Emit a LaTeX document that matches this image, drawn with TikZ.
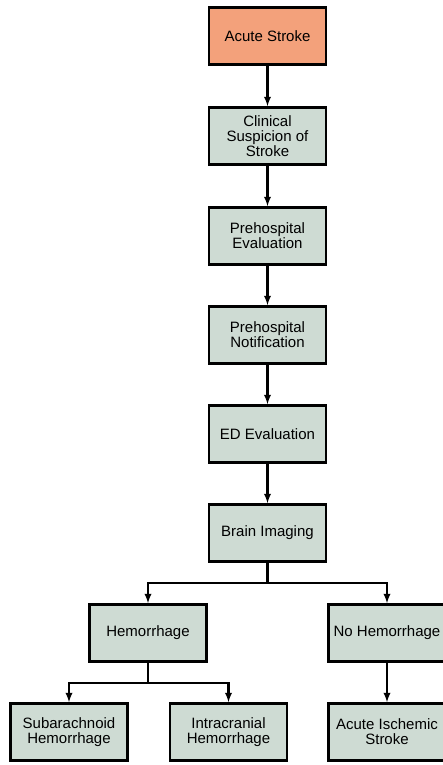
\documentclass[tikz,border=0pt]{standalone}
\usepackage{fontspec}
\setmainfont{Liberation Sans}
\usepackage{xcolor}
\usepackage{tikz}
\usetikzlibrary{
  arrows,
  positioning,
  calc}
\definecolor{strokeorange}{RGB}{243,161,123}
\definecolor{stepgray}{RGB}{206,219,211}
\tikzset{every picture/.style={font issue=\fontsize{15}{15}},
         font issue/.style={execute at begin picture={#1\selectfont}},
         stepbox/.style={draw, line width=2.5pt, fill=stepgray, minimum width=117pt, minimum height=57pt, align=center, inner sep=2pt},
         link/.style={-latex, line width=2.2pt}
        }
\begin{document}
\begin{tikzpicture}[x=1pt,y=1pt]
\useasboundingbox (0,0) rectangle (442,765);
\node[stepbox, fill=strokeorange] at (267.5,729)(stroke){Acute Stroke};
\node[stepbox] at (267.5,629)(suspicion){Clinical\\Suspicion of\\Stroke};
\node[stepbox] at (267.5,529)(evaluation){Prehospital\\Evaluation};
\node[stepbox] at (267.5,430)(notification){Prehospital\\Notification};
\node[stepbox] at (267.5,331)(ed){ED Evaluation};
\node[stepbox] at (267.5,232)(imaging){Brain Imaging};
\node[stepbox] at (148,132)(hemorrhage){Hemorrhage};
\node[stepbox] at (387,132)(nohemorrhage){No Hemorrhage};
\node[stepbox] at (69,33)(subarachnoid){Subarachnoid\\Hemorrhage};
\node[stepbox] at (228.5,33)(intracranial){Intracranial\\Hemorrhage};
\node[stepbox] at (387,33)(ischemic){Acute Ischemic\\Stroke};
% main chain
\draw[link] (stroke) -- (suspicion);
\draw[link] (suspicion) -- (evaluation);
\draw[link] (evaluation) -- (notification);
\draw[link] (notification) -- (ed);
\draw[link] (ed) -- (imaging);
% branches
\draw[link] (imaging.south) -- ++(0,-20) -| (hemorrhage.north);
\draw[link] (imaging.south) -- ++(0,-20) -| (nohemorrhage.north);
\draw[link] (hemorrhage.south) -- ++(0,-20) -| (subarachnoid.north);
\draw[link] (hemorrhage.south) -- ++(0,-20) -| (intracranial.north);
\draw[link] (nohemorrhage) -- (ischemic);
\end{tikzpicture}
\end{document}
